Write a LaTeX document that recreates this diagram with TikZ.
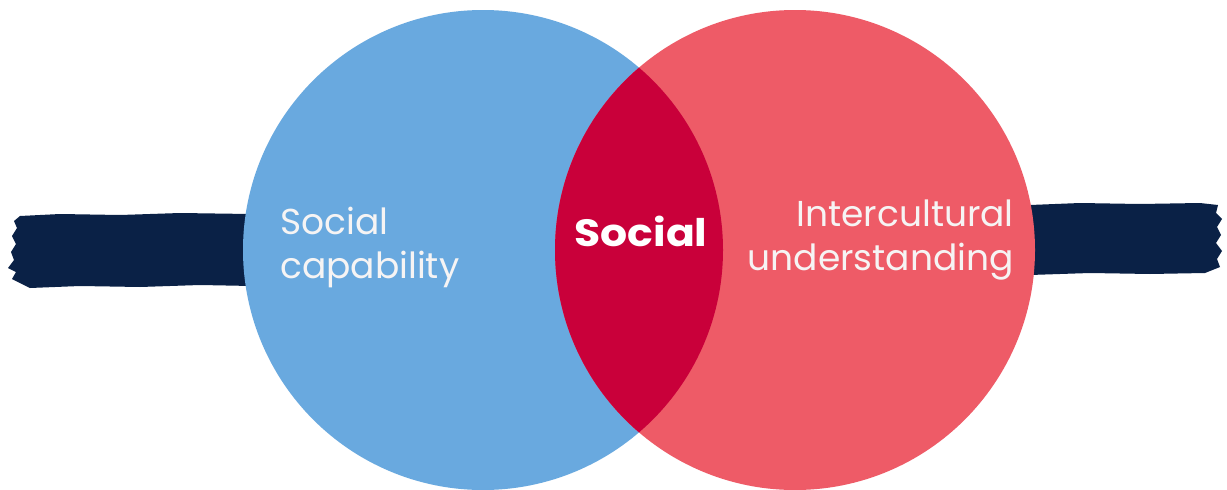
\documentclass[tikz,border=0pt]{standalone}
\usepackage{fontspec}
\setmainfont{Poppins}
\newfontfamily\midfont[FakeStretch=1.12]{Poppins}
\definecolor{vblue}{HTML}{69A9DF}
\definecolor{vred}{HTML}{EE5B67}
\definecolor{vmid}{HTML}{C9003A}
\definecolor{navy}{HTML}{0A2146}
\definecolor{txt}{HTML}{F6F4F4}
\begin{document}
\begin{tikzpicture}[x=1pt,y=-1pt,
  venn/.style={circle,minimum size=480pt,inner sep=0pt},
  lbl/.style={text=txt,font=\fontsize{36}{44}\selectfont,inner sep=0pt},
  brush/.style={fill=navy}]
\useasboundingbox (0,0) rectangle (1227,490);
\fill[white] (0,0) rectangle (1227,490);
% brush strokes
\fill[brush] (20,216) -- (60,214) -- (120,215) -- (180,213) -- (250,214) -- (252,286)
  -- (200,285) -- (140,287) -- (80,286) -- (30,288) -- (12,279) -- (16,272) -- (8,268)
  -- (14,260) -- (11,252) -- (16,244) -- (12,236) -- (17,228) -- (14,221) -- cycle;
\fill[brush] (1030,205) -- (1080,203) -- (1140,204) -- (1200,203) -- (1218,205) -- (1216,213)
  -- (1222,219) -- (1217,227) -- (1221,235) -- (1216,243) -- (1222,251) -- (1217,259)
  -- (1220,267) -- (1205,273) -- (1150,274) -- (1090,273) -- (1030,275) -- cycle;
% circles
\node[venn,fill=vblue] (blue) at (483,250) {};
\node[venn,fill=vred] (red) at (795,250) {};
\begin{scope}
  \clip (blue.center) circle[radius=240pt];
  \fill[vmid] (red.center) circle[radius=240pt];
\end{scope}
% labels
\node[lbl,anchor=west,align=left] (lt) at (280,247) {Social\\capability};
\node[lbl,anchor=east,align=right] (rt) at (1014,240) {Intercultural\\understanding};
\node[lbl,font=\midfont\fontsize{38}{44}\selectfont\bfseries,text=white,anchor=base] (mt) at (641,246) {Social};
\end{tikzpicture}
\end{document}
